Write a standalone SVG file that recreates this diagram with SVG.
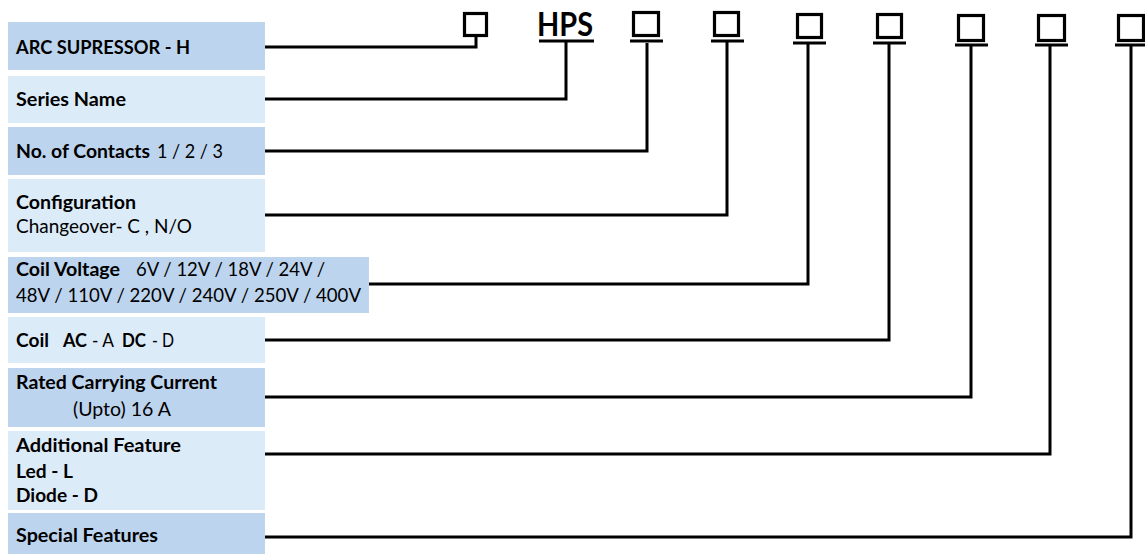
<svg xmlns="http://www.w3.org/2000/svg" width="1145" height="554" viewBox="0 0 1145 554">
<style>
  .dark { fill: #BDD4EE; }
  .light { fill: #DCEBF8; }
  text { font-family: Lato, "Liberation Sans", sans-serif; font-size: 19.5px; fill: #000; }
  .b { font-weight: bold; }
  .r { font-weight: normal; }
  .sq { fill: none; stroke: #000; stroke-width: 3.2; }
  .ln { fill: none; stroke: #000; stroke-width: 3; stroke-linecap: butt; stroke-linejoin: miter; }
  .hps { font-size: 32px; font-weight: bold; }
</style>
<rect width="1145" height="554" fill="#fff"/>

<g id="label-arc">
  <rect class="dark" x="8" y="22" width="257" height="48"/>
  <text class="b" x="16" y="54" textLength="174" lengthAdjust="spacingAndGlyphs">ARC SUPRESSOR - H</text>
</g>
<g id="label-series">
  <rect class="light" x="8" y="76" width="257" height="47"/>
  <text class="b" x="16" y="106" textLength="110" lengthAdjust="spacingAndGlyphs">Series Name</text>
</g>
<g id="label-contacts">
  <rect class="dark" x="8" y="127" width="257" height="48"/>
  <text class="b" x="16" y="158" textLength="134" lengthAdjust="spacingAndGlyphs">No. of Contacts</text>
  <text class="r" x="157" y="158" textLength="66" lengthAdjust="spacingAndGlyphs">1 / 2 / 3</text>
</g>
<g id="label-config">
  <rect class="light" x="8" y="179" width="257" height="73"/>
  <text class="b" x="16" y="209" textLength="120" lengthAdjust="spacingAndGlyphs">Configuration</text>
  <text class="r" x="16" y="233" textLength="176" lengthAdjust="spacingAndGlyphs">Changeover- C , N/O</text>
</g>
<g id="label-coil-voltage">
  <rect class="dark" x="8" y="257" width="361" height="56"/>
  <text class="b" x="16" y="276" textLength="104" lengthAdjust="spacingAndGlyphs">Coil Voltage</text>
  <text class="r" x="136" y="276" textLength="189" lengthAdjust="spacingAndGlyphs">6V / 12V / 18V / 24V /</text>
  <text class="r" x="16" y="302" textLength="345" lengthAdjust="spacingAndGlyphs">48V / 110V / 220V / 240V / 250V / 400V</text>
</g>
<g id="label-coil">
  <rect class="light" x="8" y="317" width="257" height="46"/>
  <text class="b" x="16" y="347" textLength="33" lengthAdjust="spacingAndGlyphs">Coil</text>
  <text class="b" x="63" y="347" textLength="24" lengthAdjust="spacingAndGlyphs">AC</text>
  <text class="r" x="92" y="347" textLength="22" lengthAdjust="spacingAndGlyphs">- A</text>
  <text class="b" x="122" y="347" textLength="24" lengthAdjust="spacingAndGlyphs">DC</text>
  <text class="r" x="152" y="347" textLength="22" lengthAdjust="spacingAndGlyphs">- D</text>
</g>
<g id="label-rated">
  <rect class="dark" x="8" y="368" width="257" height="59"/>
  <text class="b" x="16" y="389" textLength="201" lengthAdjust="spacingAndGlyphs">Rated Carrying Current</text>
  <text class="r" x="73" y="416" textLength="98" lengthAdjust="spacingAndGlyphs">(Upto) 16 A</text>
</g>
<g id="label-additional">
  <rect class="light" x="8" y="431" width="257" height="79"/>
  <text class="b" x="16" y="452" textLength="165" lengthAdjust="spacingAndGlyphs">Additional Feature</text>
  <text class="b" x="16" y="478" textLength="57" lengthAdjust="spacingAndGlyphs">Led - L</text>
  <text class="b" x="16" y="502" textLength="82" lengthAdjust="spacingAndGlyphs">Diode - D</text>
</g>
<g id="label-special">
  <rect class="dark" x="8" y="513" width="257" height="41"/>
  <text class="b" x="16" y="542" textLength="142" lengthAdjust="spacingAndGlyphs">Special Features</text>
</g>

<g id="code-1"><rect class="sq" x="464.5" y="13.5" width="22" height="22"/></g>
<g id="code-hps"><text class="hps" x="537" y="36" textLength="56" lengthAdjust="spacingAndGlyphs">HPS</text><line class="ln" x1="539" y1="41" x2="594" y2="41"/></g>
<g id="code-3"><rect class="sq" x="633.5" y="12.5" width="25" height="23"/><line class="ln" x1="630" y1="41" x2="663" y2="41"/></g>
<g id="code-4"><rect class="sq" x="714.5" y="12.5" width="24" height="23"/><line class="ln" x1="711" y1="41" x2="744" y2="41"/></g>
<g id="code-5"><rect class="sq" x="797.5" y="14.5" width="24" height="23"/><line class="ln" x1="793" y1="43" x2="826" y2="43"/></g>
<g id="code-6"><rect class="sq" x="877.5" y="14.5" width="24" height="23"/><line class="ln" x1="873" y1="43" x2="906" y2="43"/></g>
<g id="code-7"><rect class="sq" x="958.5" y="15.5" width="25" height="25"/><line class="ln" x1="955" y1="45" x2="988" y2="45"/></g>
<g id="code-8"><rect class="sq" x="1038.5" y="15.5" width="26" height="25"/><line class="ln" x1="1035" y1="45" x2="1068" y2="45"/></g>
<g id="code-9"><rect class="sq" x="1118.5" y="15.5" width="25" height="25"/><line class="ln" x1="1115" y1="45" x2="1148" y2="45"/></g>

<g id="connectors">
  <path class="ln" d="M265,47 H476 V36"/>
  <path class="ln" d="M265,99 H566 V41"/>
  <path class="ln" d="M265,151 H647 V43"/>
  <path class="ln" d="M265,215 H727 V41"/>
  <path class="ln" d="M369,284 H808 V43"/>
  <path class="ln" d="M265,340 H889 V43"/>
  <path class="ln" d="M265,397 H971 V45"/>
  <path class="ln" d="M265,454 H1050 V45"/>
  <path class="ln" d="M265,537 H1131 V45"/>
</g>
</svg>
